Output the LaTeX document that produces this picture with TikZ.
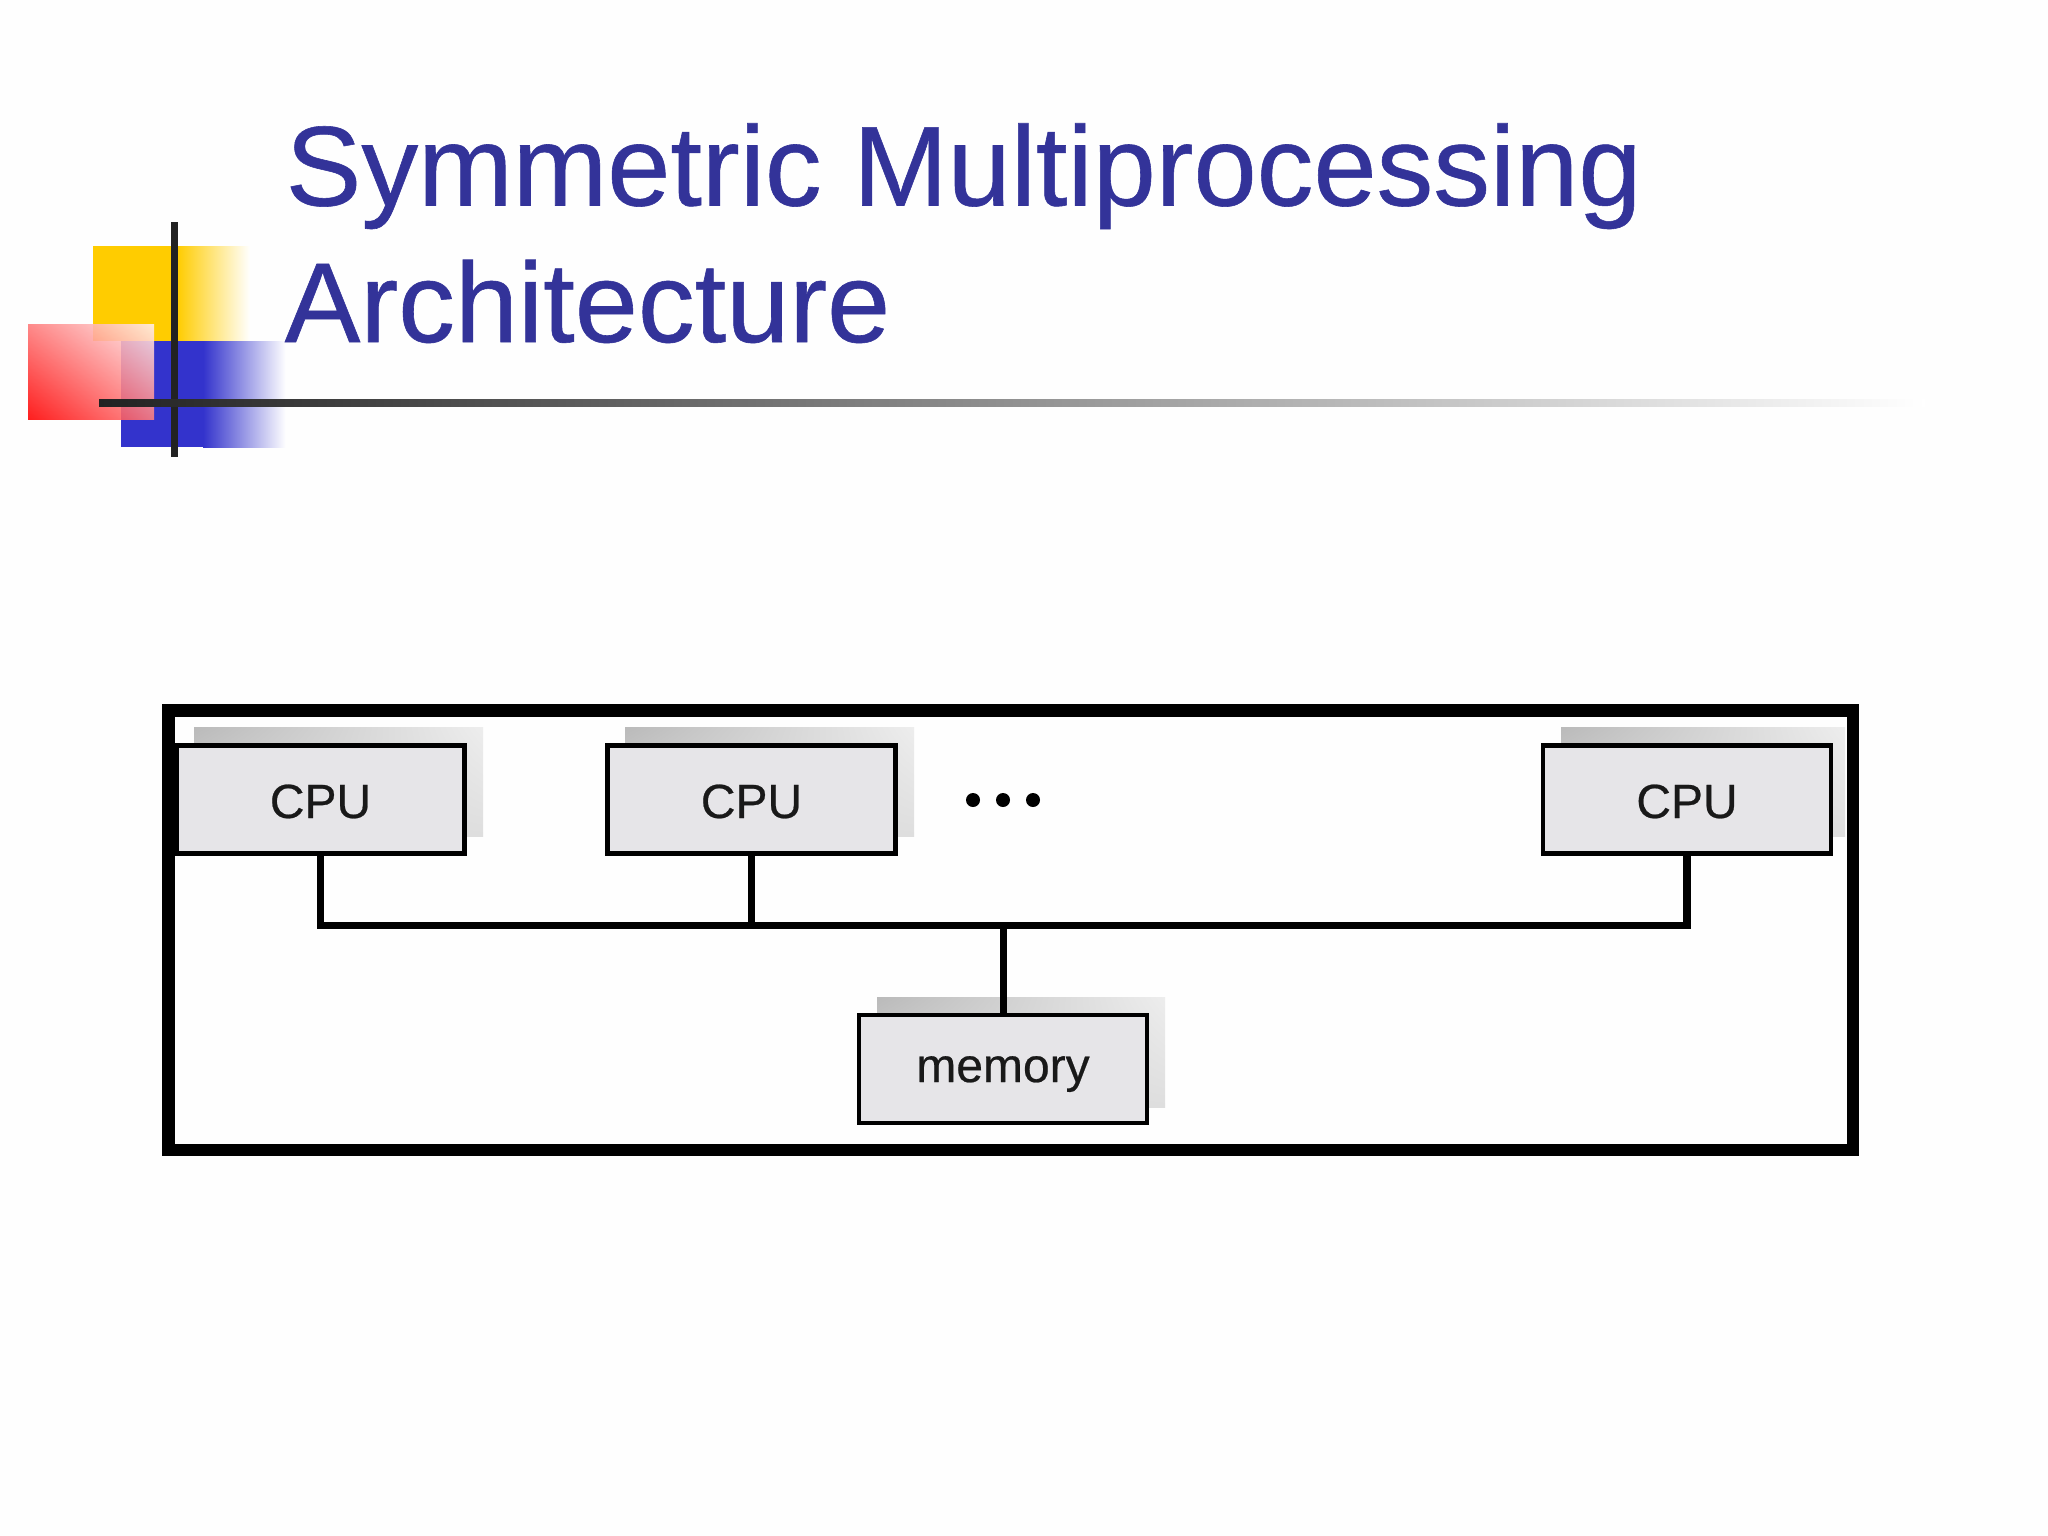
\documentclass[tikz,border=0pt]{standalone}
\usepackage{fontspec}
\setmainfont{Liberation Sans}
\newfontfamily\heavysans{Liberation Sans}[FakeBold=0.5]
\usetikzlibrary{shadings}
\definecolor{titleblue}{HTML}{333399}
\definecolor{sqyellow}{HTML}{FFCC00}
\definecolor{sqblue}{HTML}{3333CC}
\definecolor{boxfill}{HTML}{E6E5E8}
\definecolor{inkdark}{HTML}{222222}
\tikzset{
  x=1pt,y=-1pt,
  box/.style={draw=black,line width=4.2pt,fill=boxfill,minimum width=288pt,minimum height=108pt,inner sep=0pt,font=\heavysans\fontsize{48}{48}\selectfont,text=black!90,text depth=0pt},
  cpu/.style={box,text height=37pt},
  mem/.style={box,text height=26pt},
  wire/.style={draw=black,line width=7pt},
  bus/.style={draw=black,line width=7.5pt,line cap=butt,line join=miter},
  frame/.style={draw=black,line width=12.5pt},
  titletext/.style={anchor=base west,inner sep=0pt,text=titleblue,font=\heavysans\fontsize{113.5}{114}\selectfont},
  dot/.style={circle,fill=black,inner sep=0pt,minimum size=14pt},
  softshadow/.style={upper left=black!27,upper right=black!7,lower right=black!13,lower left=black!14},
}
\begin{document}
\begin{tikzpicture}
\useasboundingbox (0,0) rectangle (2048,1536);
\fill[white!99.5!black] (0,0) rectangle (2048,1536);
% decoration
\fill[sqyellow] (93,246) rectangle (178,341);
\shade[left color=sqyellow,right color=white] (177,246) rectangle (250,341);
\fill[sqblue] (121,341) rectangle (204,447);
\shade[left color=sqblue,right color=white] (203,341) rectangle (286,447);
\shade[lower left=red,upper left=red!52!white,upper right=red!6!white,lower right=red!50!white,fill opacity=0.88] (28,324) rectangle (154,419);
\draw[inkdark,line width=7pt] (174,222) -- (174,457);
\shade[left color=inkdark,right color=white] (99,399.5) rectangle (1925,406.5);
% title
\node[titletext] (t1) at (285.5,205.5) {Symmetric Multiprocessing};
\node[titletext] (t2) at (284.5,342) {Architecture};
% diagram
\draw[frame] (168.5,710.5) rectangle (1853,1150);
\shade[softshadow] (194,727) rectangle (483,836);
\shade[softshadow] (625,727) rectangle (914,836);
\shade[softshadow] (1561,727) rectangle (1845,836);
\shade[softshadow] (877,997) rectangle (1165,1107);
\node[cpu] (c1) at (320.5,799.5) {CPU};
\node[cpu] (c2) at (751.5,799.5) {CPU};
\node[cpu] (c3) at (1687,799.5) {CPU};
\node[mem] (m) at (1003,1069) {memory};
\coordinate (bl) at (320.5,925.5);
\coordinate (br) at (1687,925.5);
\coordinate (bm) at (751.5,925.5);
\coordinate (bc) at (1003,925.5);
\draw[bus] (c1.south) -- (bl) -- (br) -- (c3.south);
\draw[wire] (c2.south) -- (bm);
\draw[wire] (bc) -- (m.north);
\node[dot] (d1) at (973,800) {};
\node[dot] (d2) at (1003,800) {};
\node[dot] (d3) at (1033,800) {};
\end{tikzpicture}
\end{document}
